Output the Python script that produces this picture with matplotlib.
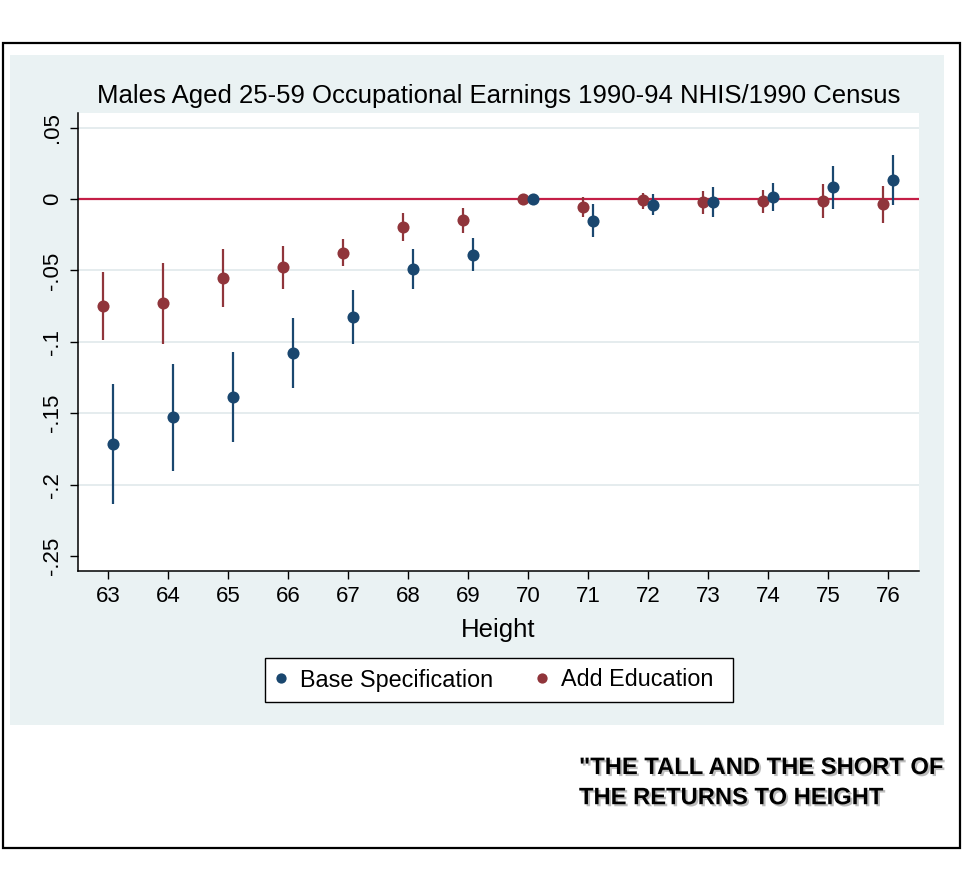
import matplotlib
matplotlib.use("Agg")
import matplotlib.pyplot as plt
import matplotlib.patheffects as pe
from matplotlib.patches import Rectangle
import numpy as np

plt.rcParams['font.family'] = ['Liberation Sans', 'DejaVu Sans']

heights = [63, 64, 65, 66, 67, 68, 69, 70, 71, 72, 73, 74, 75, 76]

base_est = [-0.1715, -0.1528, -0.1386, -0.1075, -0.0827, -0.0489, -0.0390, 0.0,
            -0.0150, -0.0040, -0.0021, 0.0016, 0.0082, 0.0136]
base_hi = [-0.1295, -0.1155, -0.1073, -0.0830, -0.0636, -0.0350, -0.0276, 0.0,
           -0.0035, 0.0033, 0.0082, 0.0112, 0.0234, 0.0311]
base_lo = [-0.2138, -0.1905, -0.1700, -0.1323, -0.1017, -0.0629, -0.0507, 0.0,
           -0.0264, -0.0112, -0.0126, -0.0084, -0.0070, -0.0042]

edu_est = [-0.0748, -0.0729, -0.0552, -0.0479, -0.0376, -0.0194, -0.0147, 0.0,
           -0.0056, -0.0009, -0.0023, -0.0014, -0.0012, -0.0037]
edu_hi = [-0.0510, -0.0447, -0.0350, -0.0330, -0.0280, -0.0098, -0.0059, 0.0,
          0.0014, 0.0042, 0.0056, 0.0065, 0.0103, 0.0093]
edu_lo = [-0.0986, -0.1012, -0.0753, -0.0627, -0.0472, -0.0295, -0.0238, 0.0,
          -0.0126, -0.0070, -0.0105, -0.0098, -0.0133, -0.0164]

yticks = [0.05, 0, -0.05, -0.1, -0.15, -0.2, -0.25]
ytick_labels = ['.05', '0', '-.05', '-.1', '-.15', '-.2', '-.25']

title = "Males Aged 25-59 Occupational Earnings 1990-94 NHIS/1990 Census"
legend_labels = ["Base Specification", "Add Education"]
caption = '"THE TALL AND THE SHORT OF\nTHE RETURNS TO HEIGHT'

BLUE = '#1a476f'
RED = '#90353b'
REFLINE = '#c41e46'
PANEL = '#eaf2f3'
GRID = '#e3eaed'

W, H = 964, 892
fig = plt.figure(figsize=(W / 100, H / 100), dpi=100)

# outer border
fig.patches.append(Rectangle((3 / W, 1 - 848 / H), 957 / W, (848 - 43) / H,
                             transform=fig.transFigure, facecolor='white',
                             edgecolor='black', linewidth=1.6, zorder=-2))
# graph panel
fig.patches.append(Rectangle((10 / W, 1 - 725 / H), 934 / W, (725 - 55) / H,
                             transform=fig.transFigure, facecolor=PANEL,
                             edgecolor='none', zorder=-1))
# legend box
fig.patches.append(Rectangle((265 / W, 1 - 702 / H), 468 / W, 44 / H,
                             transform=fig.transFigure, facecolor='white',
                             edgecolor='black', linewidth=1.0, zorder=-0.5))

ax = fig.add_axes([78 / W, 1 - 571 / H, (919 - 78) / W, (571 - 113) / H])
ax.set_facecolor('white')

off = 0.08
xb = np.array(heights) + off
xe = np.array(heights) - off
be = np.array(base_est)
ee = np.array(edu_est)

for y in yticks:
    if y not in (0, -0.25):
        ax.axhline(y, color=GRID, lw=1.3, zorder=1)
ax.axhline(0, color=REFLINE, lw=1.6, zorder=2)

ax.vlines(xe, edu_lo, edu_hi, color=RED, lw=1.6, zorder=3)
ax.vlines(xb, base_lo, base_hi, color=BLUE, lw=1.6, zorder=3)
ax.plot(xe, ee, 'o', color=RED, ms=8.7, mew=0, zorder=4, label=legend_labels[1])
ax.plot(xb, be, 'o', color=BLUE, ms=8.7, mew=0, zorder=4, label=legend_labels[0])

ax.set_xlim(62.495, 76.517)
ax.set_ylim(-0.2605, 0.0603)
ax.set_xticks(heights)
ax.set_xticklabels([str(h) for h in heights], fontsize=16)
ax.set_yticks(yticks)
ax.set_yticklabels(ytick_labels, fontsize=16, rotation=90, va='center')
ax.tick_params(axis='both', direction='out', length=6, width=1, color='black')
ax.tick_params(axis='x', pad=5)
ax.tick_params(axis='y', pad=5)
for s in ['top', 'right']:
    ax.spines[s].set_visible(False)
for s in ['left', 'bottom']:
    ax.spines[s].set_linewidth(1.1)

ax.set_title(title, fontsize=18.5, pad=7)
ax.set_xlabel("Height", fontsize=18.5, labelpad=8)

handles = [ax.lines[-1], ax.lines[-2]]
leg = fig.legend(handles, legend_labels, loc='center left',
                 bbox_to_anchor=(275 / W, 1 - 680 / H), ncol=2, fontsize=16.8,
                 frameon=False, borderpad=0, borderaxespad=0,
                 handlelength=0.5, handletextpad=0.56, columnspacing=1.86,
                 markerscale=0.85)

fig.text(579 / W, 1 - 756 / H, caption, fontsize=17.1, fontweight='bold',
         va='top', ha='left', linespacing=1.4, color='black',
         path_effects=[pe.withSimplePatchShadow(offset=(1.5, -1.5),
                                                shadow_rgbFace='#888888',
                                                alpha=0.55)])

fig.savefig('out.png', dpi=100)
